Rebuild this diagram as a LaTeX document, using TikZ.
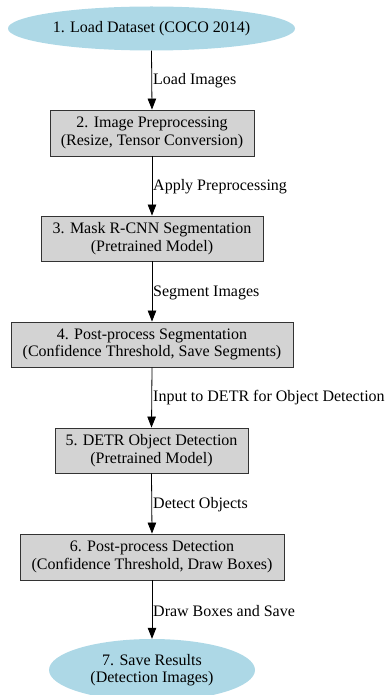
\documentclass[tikz,border=0pt]{standalone}
\usepackage{fontspec}
\setmainfont{Liberation Serif}
\usetikzlibrary{arrows.meta,shapes.geometric}
\definecolor{termfill}{HTML}{ADD8E6}
\definecolor{stepfill}{HTML}{D3D3D3}
\definecolor{edgeline}{HTML}{333333}
\begin{document}
\begin{tikzpicture}[x=1pt,y=-1pt,
  font=\fontsize{16}{17.5}\selectfont,
  terminal/.style={ellipse, fill=termfill, draw=none, inner sep=0pt, align=center},
  stagebox/.style={rectangle, fill=stepfill, draw=edgeline, line width=0.9pt, inner sep=0pt, align=center},
  flow/.style={draw=black, line width=0.8pt, -{Triangle[length=11pt,width=8.5pt]}},
  edgelabel/.style={anchor=west, inner sep=0pt}
]
\useasboundingbox (0,0) rectangle (387,695);

% pipeline stages
\node[terminal, minimum width=287, minimum height=44] (s1) at (151.5,28.5) {1. Load Dataset (COCO 2014)};
\node[stagebox, minimum width=204, minimum height=46] (s2) at (152,133) {2. Image Preprocessing\\(Resize, Tensor Conversion)};
\node[stagebox, minimum width=222, minimum height=45] (s3) at (152,238.5) {3. Mask R-CNN Segmentation\\(Pretrained Model)};
\node[stagebox, minimum width=282, minimum height=45] (s4) at (152,344.5) {4. Post-process Segmentation\\(Confidence Threshold, Save Segments)};
\node[stagebox, minimum width=193, minimum height=45] (s5) at (151.5,450.5) {5. DETR Object Detection\\(Pretrained Model)};
\node[stagebox, minimum width=264, minimum height=46] (s6) at (152,557) {6. Post-process Detection\\(Confidence Threshold, Draw Boxes)};
\node[terminal, minimum width=206, minimum height=62] (s7) at (152,670) {7. Save Results\\(Detection Images)};

% connectors
\draw[flow] (s1.south) -- (s2.north);
\draw[flow] (s2.south) -- (s3.north);
\draw[flow] (s3.south) -- (s4.north);
\draw[flow] (s4.south) -- (s5.north);
\draw[flow] (s5.south) -- (s6.north);
\draw[flow] (s6.south) -- (s7.north);

% connector labels
\node[edgelabel] (l12) at (153,81) {Load Images};
\node[edgelabel] (l23) at (153,187) {Apply Preprocessing};
\node[edgelabel] (l34) at (153,293) {Segment Images};
\node[edgelabel] (l45) at (153,398) {Input to DETR for Object Detection};
\node[edgelabel] (l56) at (153,505) {Detect Objects};
\node[edgelabel] (l67) at (153,611) {Draw Boxes and Save};
\end{tikzpicture}
\end{document}
